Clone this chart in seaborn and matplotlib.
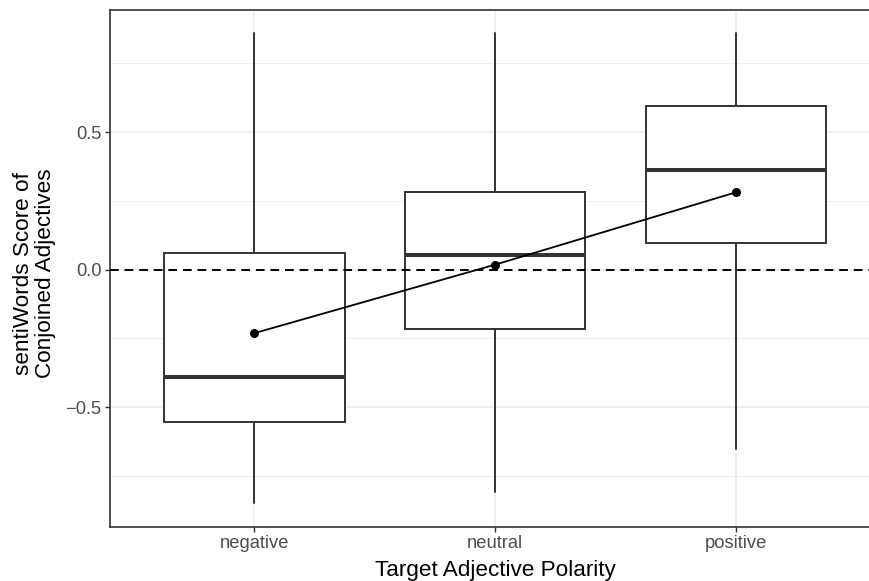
import numpy as np
import pandas as pd
import matplotlib
matplotlib.use("Agg")
import matplotlib.pyplot as plt
import seaborn as sns

# values (box stats per polarity)
categories = ["negative", "neutral", "positive"]
whisker_low = [-0.850, -0.810, -0.652]
q1 = [-0.555, -0.216, 0.096]
medians = [-0.391, 0.052, 0.363]
q3 = [0.062, 0.281, 0.594]
whisker_high = [0.860, 0.860, 0.860]
means = [-0.231, 0.018, 0.281]

sns.set_style("white")
plt.rcParams['font.family'] = ['Liberation Sans', 'DejaVu Sans']

fig = plt.figure(figsize=(8.69, 5.81), dpi=100)
ax = fig.add_axes([110 / 869, 1 - 527 / 581, 759 / 869, 517 / 581])

grid_col = "#ebebeb"
dark = "#333333"

# mean line + points through seaborn (categorical positions 0, 1, 2)
mean_df = pd.DataFrame({"polarity": categories, "score": means})
sns.pointplot(data=mean_df, x="polarity", y="score", color="black",
              errorbar=None, markersize=5.5, linewidth=1.3, ax=ax, zorder=10)

stats = []
for i, cat in enumerate(categories):
    stats.append({"label": cat, "whislo": whisker_low[i], "q1": q1[i],
                  "med": medians[i], "q3": q3[i], "whishi": whisker_high[i],
                  "mean": means[i], "fliers": []})

ax.bxp(stats, positions=range(len(categories)), widths=0.75, showfliers=False,
       showcaps=False, patch_artist=True, manage_ticks=False,
       boxprops=dict(facecolor="white", edgecolor=dark, linewidth=1.4),
       whiskerprops=dict(color=dark, linewidth=1.4),
       medianprops=dict(color=dark, linewidth=2.9, solid_capstyle="butt"),
       zorder=3)

ax.axhline(0, color="black", linestyle=(0, (4.5, 3)), linewidth=1.4, zorder=5)

ax.set_xlim(-0.6, 2.553)
ax.set_ylim(-0.936, 0.944)

ax.set_yticks([-0.5, 0.0, 0.5])
ax.set_yticklabels(["\u22120.5", "0.0", "0.5"])
ax.set_yticks([-0.75, -0.25, 0.25, 0.75], minor=True)
ax.set_xticks(range(len(categories)))
ax.set_xticklabels(categories)

ax.set_axisbelow(True)
ax.grid(True, which="major", color=grid_col, linewidth=1.1)
ax.grid(True, which="minor", axis="y", color=grid_col, linewidth=0.6)

ax.tick_params(axis="both", which="major", length=3.5, width=1.0, color=dark,
               labelsize=13.2, labelcolor="#4d4d4d", pad=2.5, left=True, bottom=True)
ax.tick_params(axis="y", which="minor", length=0)

for side in ["left", "bottom", "top"]:
    ax.spines[side].set_color(dark)
    ax.spines[side].set_linewidth(1.2)
ax.spines["right"].set_visible(False)

ax.set_xlabel("Target Adjective Polarity", fontsize=16.2, color="black")
ax.xaxis.set_label_coords((495 - 110) / 759, -0.064)
ax.set_ylabel("sentiWords Score of\nConjoined Adjectives", fontsize=16.2,
              color="black", linespacing=1.1)
ax.yaxis.set_label_coords(-0.071, 0.49)

fig.savefig("out.png", dpi=100)
